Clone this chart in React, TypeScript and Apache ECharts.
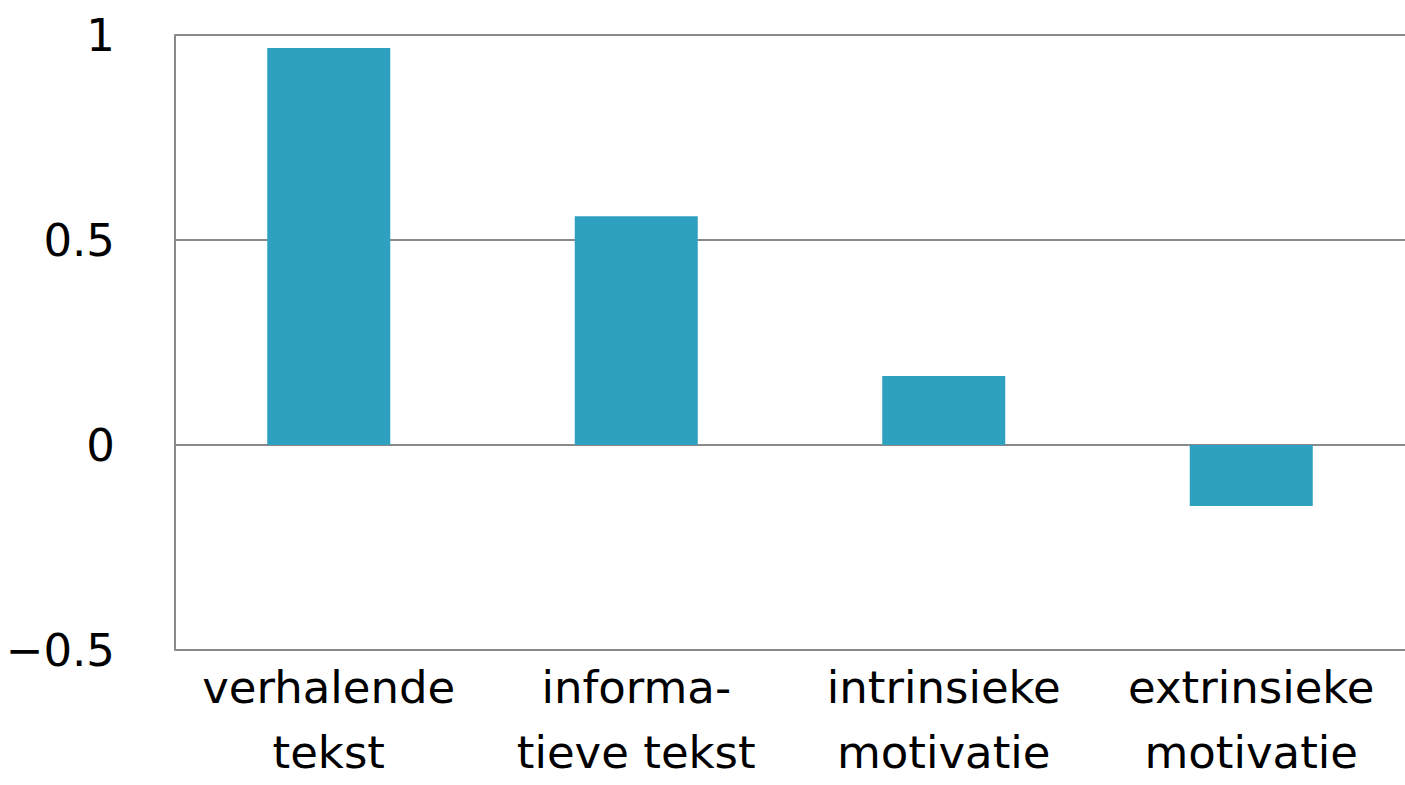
import React, { useEffect, useRef } from "react";
import * as echarts from "echarts";

const categories = ["verhalende\ntekst", "informa-\ntieve tekst", "intrinsieke\nmotivatie", "extrinsieke\nmotivatie"];
const values = [0.968, 0.558, 0.168, -0.149];
const yTicks = { min: -0.5, max: 1, interval: 0.5 };

export default function App() {
  const ref = useRef<HTMLDivElement>(null);
  useEffect(() => {
    if (!ref.current) return;
    const chart = echarts.init(ref.current, undefined, { renderer: "svg" });
    const font = "DejaVu Sans";
    chart.setOption({
      animation: false,
      grid: { left: 175, right: 0, top: 35, bottom: 135, containLabel: false, outerBoundsMode: "none" },
      xAxis: {
        type: "category",
        data: categories,
        axisLine: { show: false, onZero: false },
        axisTick: { show: false },
        axisLabel: {
          color: "#000",
          fontFamily: font,
          fontSize: 45,
          lineHeight: 65,
          margin: 5,
          interval: 0,
        },
      },
      yAxis: {
        type: "value",
        min: yTicks.min,
        max: yTicks.max,
        interval: yTicks.interval,
        axisLine: { show: true, lineStyle: { color: "#898989", width: 2 } },
        axisTick: { show: false },
        splitLine: { show: true, lineStyle: { color: "#898989", width: 2 } },
        axisLabel: {
          color: "#000",
          fontFamily: font,
          fontSize: 45,
          margin: 60,
          formatter: (v: number) => String(v).replace("-", "\u2212"),
        },
      },
      series: [
        {
          type: "bar",
          data: values,
          barCategoryGap: "60%",
          itemStyle: { color: "#2da1bf" },
        },
      ],
    });
    return () => chart.dispose();
  }, []);
  return (
    <div
      ref={ref}
      style={{ position: "fixed", left: 0, top: 0, width: 1405, height: 785, background: "#fff" }}
    />
  );
}
